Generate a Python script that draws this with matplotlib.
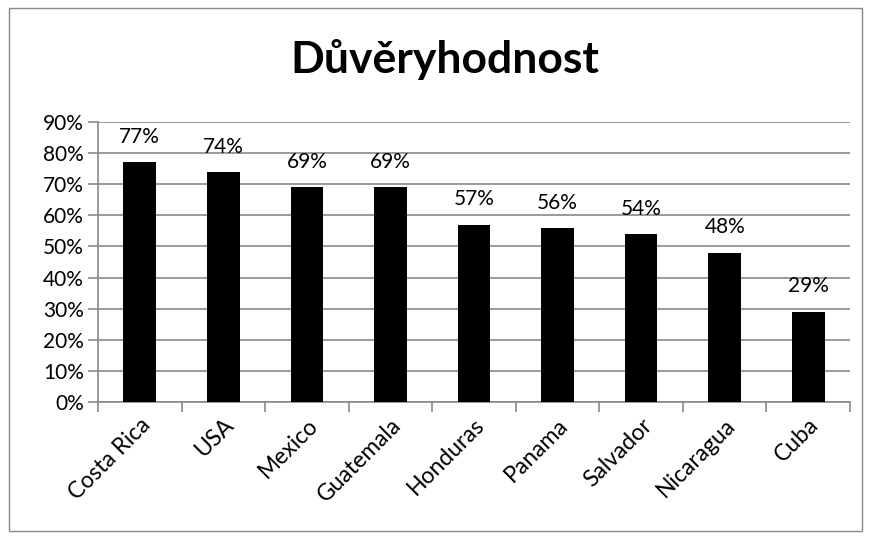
import matplotlib
matplotlib.use('Agg')
import matplotlib.pyplot as plt
from matplotlib.patches import Rectangle

# data
countries = ['Costa Rica', 'USA', 'Mexico', 'Guatemala', 'Honduras',
             'Panama', 'Salvador', 'Nicaragua', 'Cuba']
values = [77, 74, 69, 69, 57, 56, 54, 48, 29]
yticks = [0, 10, 20, 30, 40, 50, 60, 70, 80, 90]
title = 'Důvěryhodnost'

plt.rcParams['font.family'] = ['Lato', 'DejaVu Sans']
grey = '#898989'
fs = 15

fig = plt.figure(figsize=(8.69, 5.39), dpi=100)
fig.patches.append(Rectangle((9/869, 8/539), 853/869, 523/539, transform=fig.transFigure,
                             fill=False, edgecolor=grey, linewidth=1))
ax = fig.add_axes([98/869, 137/539, 752/869, 280/539])

x = range(len(countries))
ax.bar(x, values, width=0.39, color='black', zorder=3)
for i, v in enumerate(values):
    ax.annotate('%d%%' % v, (i, v), xytext=(0, 11), textcoords='offset points',
                ha='center', va='bottom', fontsize=fs)

ax.set_xlim(-0.5, len(countries) - 0.5)
ax.set_ylim(0, 90)
ax.set_yticks(yticks)
ax.set_yticklabels(['%d%%' % t for t in yticks], fontsize=fs)
ax.yaxis.grid(True, color=grey, linewidth=1.2)
ax.set_axisbelow(True)

# ticks between categories
ax.set_xticks([i - 0.5 for i in range(len(countries) + 1)])
ax.set_xticklabels([])
ax.set_xticks(list(x), minor=True)
ax.set_xticklabels(countries, minor=True, rotation=45, ha='right',
                   rotation_mode='anchor', fontsize=16.5)
ax.tick_params(axis='x', which='minor', length=0, pad=9)
ax.tick_params(axis='x', which='major', length=7, color=grey, width=1.2)
ax.tick_params(axis='y', length=7, color=grey, width=1.2, pad=3)

for s in ['top', 'right']:
    ax.spines[s].set_visible(False)
for s in ['left', 'bottom']:
    ax.spines[s].set_color(grey)
    ax.spines[s].set_linewidth(1.2)

fig.text(445/869, 1 - 60/539, title, ha='center', va='center',
         fontsize=32, fontweight='bold')

fig.savefig('out.png', dpi=100)
